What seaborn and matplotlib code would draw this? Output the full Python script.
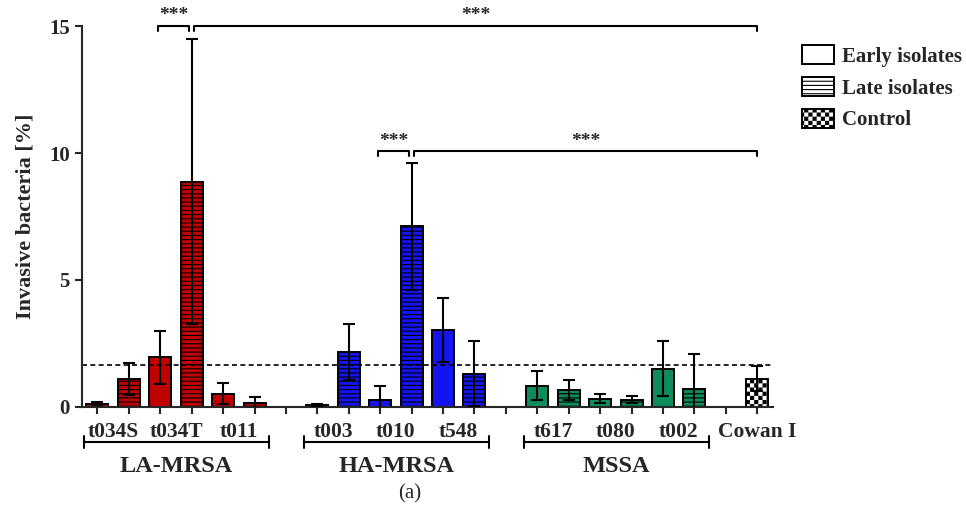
import numpy as np
import pandas as pd
import matplotlib
matplotlib.use("Agg")
import matplotlib.pyplot as plt
import matplotlib.hatch as mhatch
from matplotlib.path import Path
from matplotlib.patches import Patch
import seaborn as sns

# Data (mean +/- SD, invasive bacteria in %)
groups = ['LA-MRSA', 'HA-MRSA', 'MSSA']
spa_types = ['t034S', 't034T', 't011', 't003', 't010', 't548', 't617', 't080', 't002']
spa_group = ['LA-MRSA'] * 3 + ['HA-MRSA'] * 3 + ['MSSA'] * 3
early_mean = [0.13, 1.96, 0.53, 0.07, 0.29, 3.04, 0.83, 0.32, 1.51]
early_sd = [0.05, 1.04, 0.40, 0.04, 0.54, 1.27, 0.57, 0.18, 1.07]
late_mean = [1.10, 8.87, 0.17, 2.18, 7.11, 1.30, 0.67, 0.29, 0.72]
late_sd = [0.62, 5.60, 0.24, 1.10, 2.50, 1.28, 0.40, 0.13, 1.37]
control_name = 'Cowan I'
control_mean = 1.12
control_sd = 0.51
threshold = 1.65
legend_labels = ['Early isolates', 'Late isolates', 'Control']

group_colors = {'LA-MRSA': '#C00000', 'HA-MRSA': '#1414F0', 'MSSA': '#0E8C5C', 'Control': 'white'}
stage_hatch = {'early': '', 'late': '----', 'control': 'xxxx'}


# checkerboard hatch for the control bar ('x' is re-used for it)
class CheckerHatch(mhatch.HatchPatternBase):
    def __init__(self, hatch, density):
        self.n = hatch.count('x') * density
        self.num_vertices = (self.n * self.n // 2) * 5

    def set_vertices_and_codes(self, vertices, codes):
        n = self.n
        side = 1.0 / n - 0.011
        pad = (1.0 / n - side) / 2
        sq = np.array([[0, 0], [side, 0], [side, side], [0, side], [0, 0]]) + pad
        cells = [(c, r) for r in range(n) for c in range(n) if (r + c) % 2 == 0]
        vertices[:] = np.concatenate([sq + [c / n, r / n] for c, r in cells])
        codes[:] = np.tile([Path.MOVETO, Path.LINETO, Path.LINETO, Path.LINETO, Path.CLOSEPOLY], len(cells))


mhatch._hatch_types = [mhatch.HorizontalHatch, CheckerHatch]

# build the table: early/late pair per spa type, a gap after each group, then control
rows = []
order = []
for g_i, g in enumerate(groups):
    for i, t in enumerate(spa_types):
        if spa_group[i] != g:
            continue
        rows.append(dict(slot=t + ' early', spa=t, group=g, stage='early', value=early_mean[i], sd=early_sd[i]))
        rows.append(dict(slot=t + ' late', spa=t, group=g, stage='late', value=late_mean[i], sd=late_sd[i]))
        order += [t + ' early', t + ' late']
    order.append(' ' * (g_i + 1))
rows.append(dict(slot=control_name, spa=control_name, group='Control', stage='control',
                 value=control_mean, sd=control_sd))
order.append(control_name)
df = pd.DataFrame(rows)
df['pos'] = [order.index(s) for s in df['slot']]

sns.set_style('ticks')
plt.rcParams['font.family'] = ['Liberation Serif', 'DejaVu Serif']
plt.rcParams['hatch.linewidth'] = 0.8

fig = plt.figure(figsize=(9.66, 5.14), dpi=100)
ax = fig.add_axes([0.0846, 0.2082, 0.7156, 0.7412])

sns.barplot(data=df, x='slot', y='value', hue='group', order=order, palette=group_colors,
            dodge=False, width=0.7, saturation=1, legend=False, edgecolor='black',
            linewidth=1.4, ax=ax)

# hatches per bar
for p in ax.patches:
    pos = int(round(p.get_x() + p.get_width() / 2))
    match = df[df['pos'] == pos]
    if len(match):
        p.set_hatch(stage_hatch[match['stage'].iloc[0]])
        p.set_edgecolor('black')

ax.errorbar(df['pos'], df['value'], yerr=df['sd'], fmt='none', ecolor='black',
            elinewidth=1.5, capsize=4.5, capthick=1.5, zorder=5)

ax.axhline(threshold, color='black', lw=1.2, ls=(0, (3, 2)), zorder=1)

ax.set_xlim(-0.5, len(order) - 0.5)
ax.set_ylim(0, 15)
ax.set_yticks([0, 5, 10, 15])
ax.set_xticks(range(len(order)))
ax.set_xticklabels([])
ax.set_xlabel('')
ax.set_ylabel('Invasive bacteria [%]', fontsize=16, fontweight='bold', labelpad=10)
ax.tick_params(axis='both', direction='out', length=5, width=1.5, labelsize=15)
for lab in ax.get_yticklabels():
    lab.set_fontweight('bold')
sns.despine(ax=ax)
for s in ['left', 'bottom']:
    ax.spines[s].set_linewidth(1.5)

# spa-type labels under each pair, group brackets
xt = ax.get_xaxis_transform()
for t in spa_types + [control_name]:
    pos = df.loc[df['spa'] == t, 'pos'].mean()
    ax.text(pos, -0.066, t, transform=xt, ha='center', va='center', fontsize=15.5, fontweight='bold')
for g in groups:
    p = df.loc[df['group'] == g, 'pos']
    x0, x1 = p.min() - 0.42, p.max() + 0.45
    ax.plot([x0, x1], [-0.092, -0.092], transform=xt, color='black', lw=1.5, clip_on=False)
    for xe in (x0, x1):
        ax.plot([xe, xe], [-0.076, -0.108], transform=xt, color='black', lw=1.5, clip_on=False)
    ax.text((x0 + x1) / 2, -0.157, g, transform=xt, ha='center', va='center', fontsize=17.5, fontweight='bold')

# significance brackets
ctrl_pos = df.loc[df['stage'] == 'control', 'pos'].iloc[0]


def bracket(xa, xb, y, tip):
    ax.plot([xa, xa, xb, xb], [y - tip, y, y, y - tip], color='black', lw=1.5, clip_on=False)
    ax.text((xa + xb) / 2, y + 0.05, '***', ha='center', va='bottom', fontsize=14,
            fontweight='bold', clip_on=False)


for t, y in [('t034T', 15.02), ('t010', 10.08)]:
    p_early = df.loc[(df['spa'] == t) & (df['stage'] == 'early'), 'pos'].iloc[0]
    p_late = df.loc[(df['spa'] == t) & (df['stage'] == 'late'), 'pos'].iloc[0]
    bracket(p_early - 0.08, p_late - 0.07, y, 0.2)
    bracket(p_late + 0.07, ctrl_pos, y, 0.2)

handles = [Patch(facecolor='white', edgecolor='black', hatch=h, lw=1.4)
           for h in ['', stage_hatch['late'], stage_hatch['control']]]
fig.legend(handles, legend_labels, loc='upper left', bbox_to_anchor=(0.830, 0.912), frameon=False,
           prop=dict(size=15, weight='bold'), handlelength=1.55, handleheight=1.0,
           handletextpad=0.4, labelspacing=0.5, borderpad=0, borderaxespad=0)

fig.text(0.424, 0.04, '(a)', ha='center', va='center', fontsize=15)

fig.savefig('out.png', dpi=100)
